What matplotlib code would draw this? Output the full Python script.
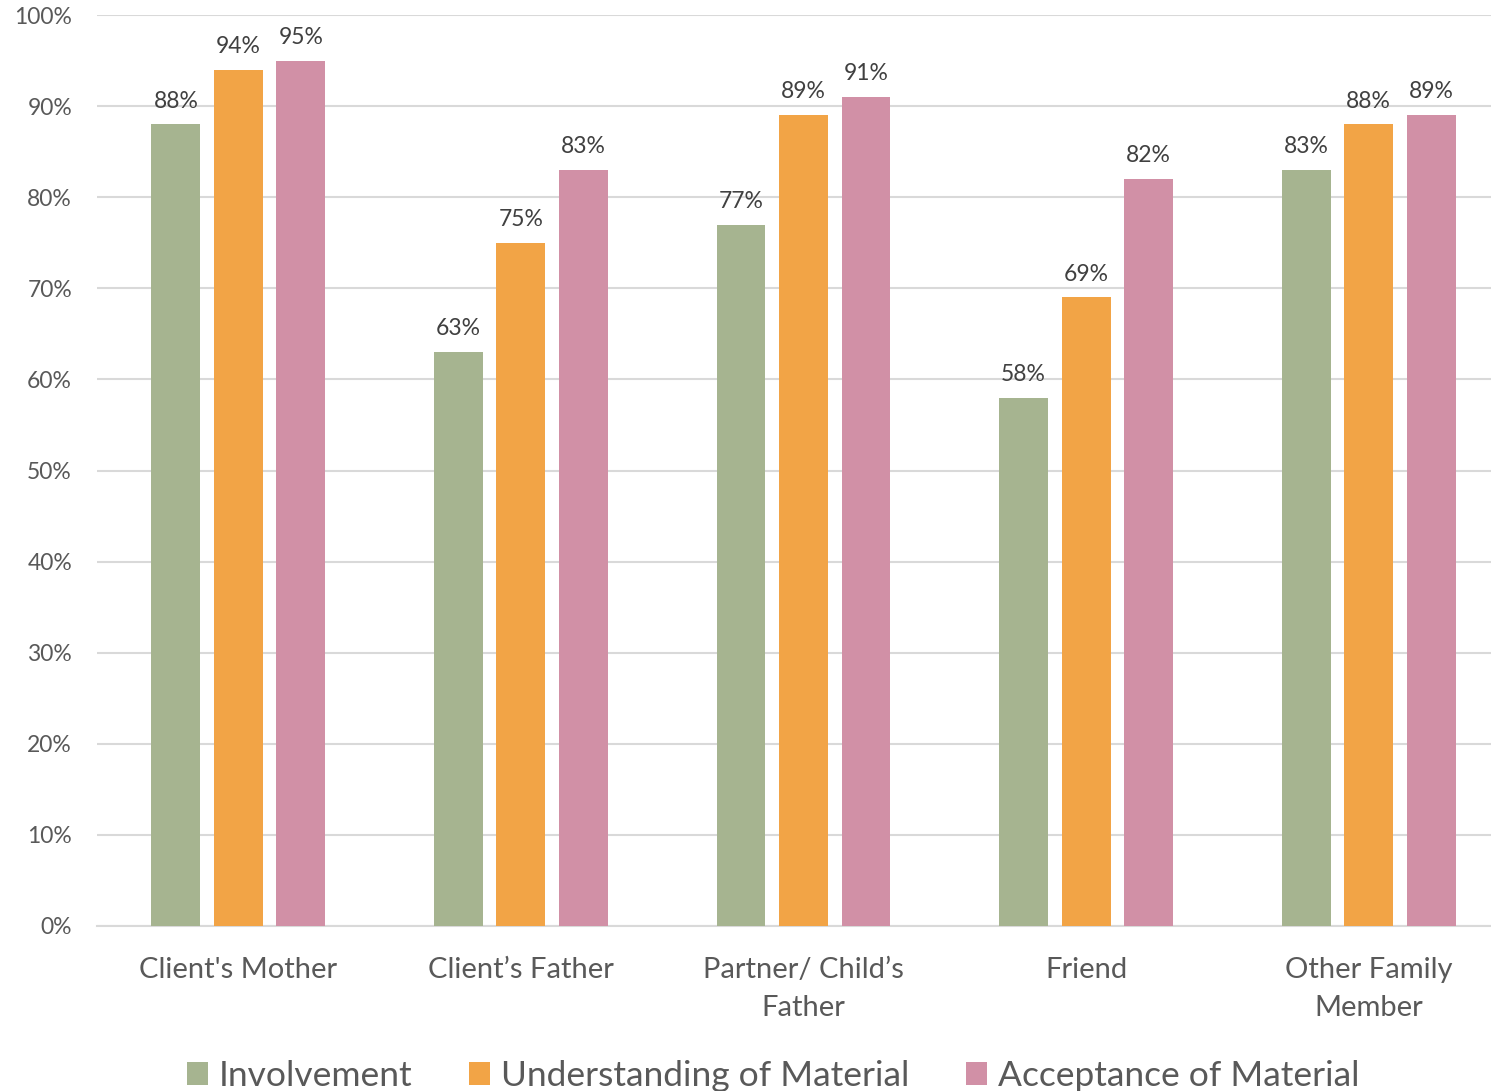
import matplotlib
matplotlib.use("Agg")
import matplotlib.pyplot as plt
import numpy as np

categories = ["Client's Mother", "Client\u2019s Father", "Partner/ Child\u2019s\nFather", "Friend", "Other Family\nMember"]
involvement = [88, 63, 77, 58, 83]
understanding = [94, 75, 89, 69, 88]
acceptance = [95, 83, 91, 82, 89]
series_names = ["Involvement", "Understanding of Material", "Acceptance of Material"]
colors = ["#A6B490", "#F2A446", "#D190A6"]
yticks = list(range(0, 101, 10))

plt.rcParams['font.family'] = ['Lato', 'DejaVu Sans']
txt = "#595959"

fig = plt.figure(figsize=(14.91, 10.91), dpi=100)
ax = fig.add_axes([97/1491, 1 - 926/1091, (1510 - 97)/1491, (926 - 15)/1091])

x = np.arange(len(categories))
w = 0.173
step = 0.221
for i, (vals, name, c) in enumerate(zip([involvement, understanding, acceptance], series_names, colors)):
    bars = ax.bar(x + (i - 1) * step, vals, width=w, color=c, label=name, zorder=3)
    for b, v in zip(bars, vals):
        ax.text(b.get_x() + b.get_width() / 2, v + 1.4, f"{v}%", ha='center', va='bottom',
                fontsize=16.5, color="#404040")

ax.set_xlim(-0.5, len(categories) - 0.5)
ax.set_ylim(0, 100)
ax.set_yticks(yticks)
ax.set_yticklabels([f"{t}%" for t in yticks], fontsize=16.5, color=txt)
ax.set_xticks(x)
ax.set_xticklabels(categories, fontsize=21, color=txt, linespacing=1.6)
ax.tick_params(axis='both', length=0)
ax.tick_params(axis='y', pad=18)
ax.tick_params(axis='x', pad=22)
ax.yaxis.grid(True, color="#D9D9D9", linewidth=1.5, zorder=0)
for s in ['top', 'right', 'left']:
    ax.spines[s].set_visible(False)
ax.spines['bottom'].set_color("#D9D9D9")
ax.spines['bottom'].set_linewidth(1.5)

leg = fig.legend(loc='lower center', bbox_to_anchor=(773/1491, -0.03), ncol=3, frameon=False,
                 fontsize=25.5, handlelength=0.6, handleheight=0.6, handletextpad=0.3,
                 columnspacing=1.6, labelcolor=txt)

fig.savefig("out.png", dpi=100)
